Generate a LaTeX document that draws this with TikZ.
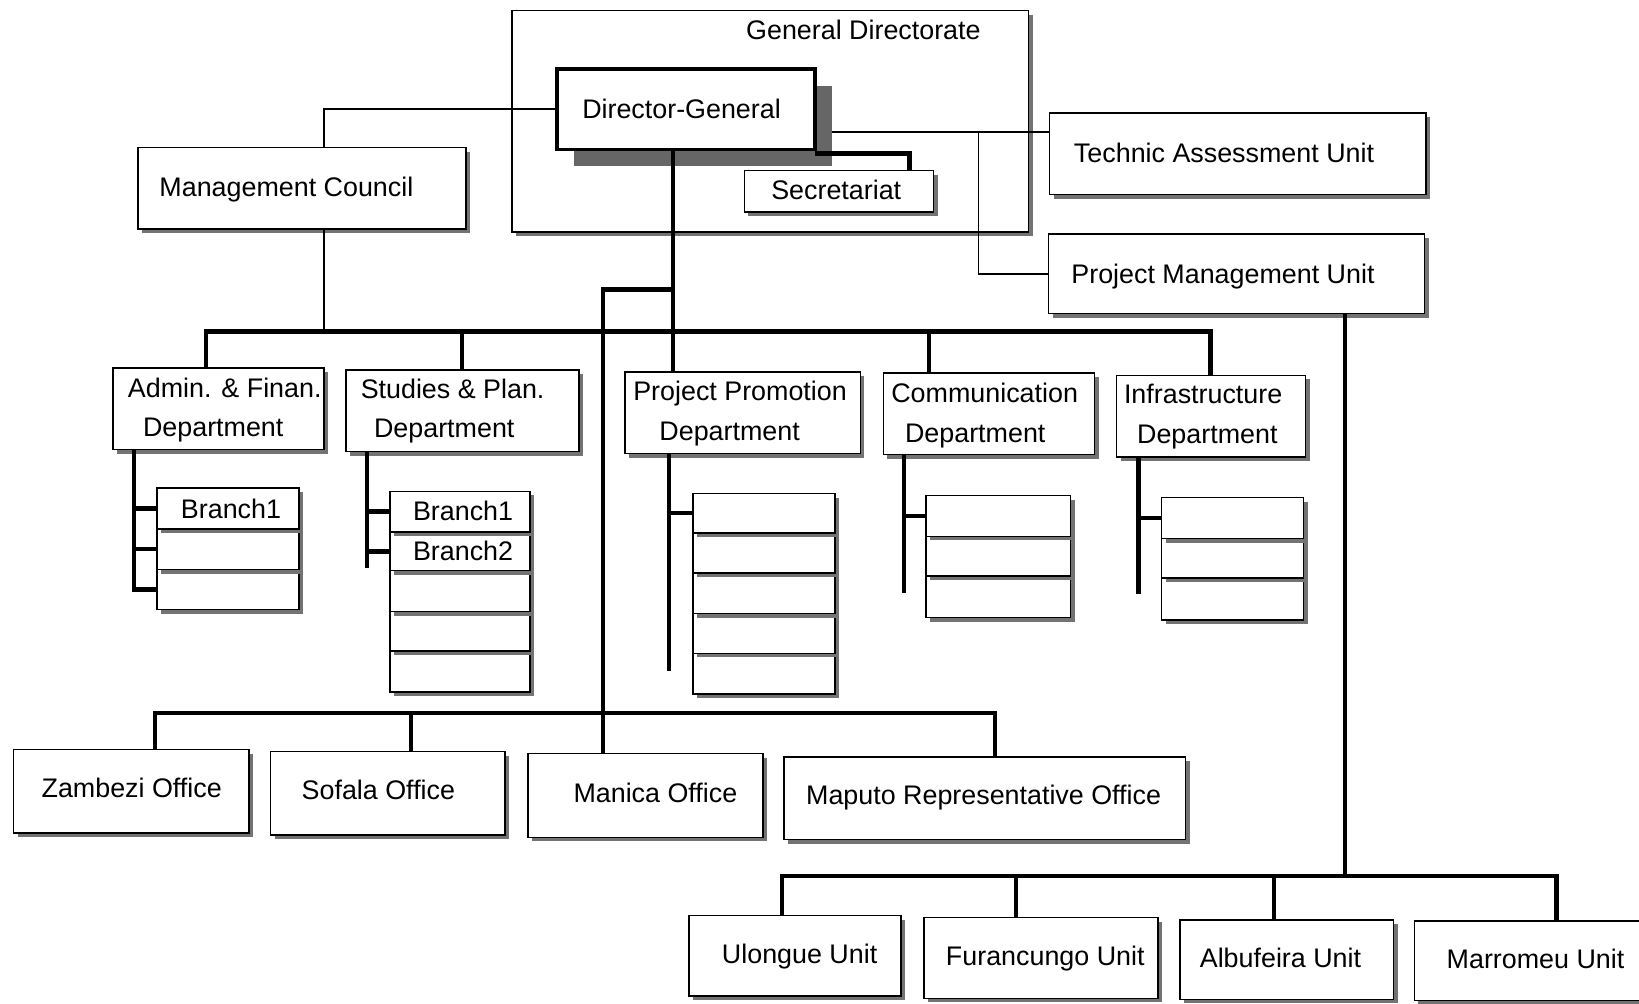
\documentclass[tikz,border=0pt]{standalone}
\usepackage{fontspec}
\setmainfont{Liberation Sans}
\usetikzlibrary{shadows}

% a framed box given by its top-left and bottom-right corners
\newcommand{\orgbox}[6][box]{%
  \node[#1, minimum width={(#5)-(#3)}, minimum height={(#6)-(#4)}] (#2) at (#3,#4) {};}
% a line of text, placed by the centre of its baseline
\newcommand{\orgtext}[4]{\node[lbl] (#1) at (#2,#3) {#4};}

\begin{document}
\begin{tikzpicture}[x=1pt, y=-1pt,
  box/.style={draw, line width=1.4pt, fill=white, inner sep=0pt, outer sep=0pt,
    anchor=north west,
    drop shadow={shadow xshift=4pt, shadow yshift=-4pt, fill=black!55, opacity=1}},
  dgbox/.style={draw, line width=3.6pt, fill=white, inner sep=0pt, outer sep=0pt,
    anchor=north west,
    drop shadow={shadow xshift=16pt, shadow yshift=-16pt, fill=black!60, opacity=1}},
  lbl/.style={font=\fontsize{25.7pt}{30pt}\selectfont, anchor=base, inner sep=0pt},
  thinln/.style={line width=1.6pt},
  heavy/.style={line width=4.2pt}]

\useasboundingbox (0,0) rectangle (1568,960);
\fill[white] (0,0) rectangle (1568,960);
\clip (0,0) rectangle (1568,960);

% ---------- General Directorate frame ----------
\orgbox{gd}{490}{10}{984}{222}
\orgtext{gd-t}{826}{38}{General Directorate}

% junction points of the connectors
\coordinate (cTAU) at (0,126);
\coordinate (cV) at (936,126);
\coordinate (cMCx) at (310,0);
\coordinate (cSec) at (870,0);
\coordinate (cTrunk) at (644,277);
\coordinate (cOff) at (577,277);
\coordinate (dA) at (197,317);
\coordinate (dB) at (442,317);
\coordinate (dC) at (889,317);
\coordinate (dD) at (1158,317);
\coordinate (oA) at (148,682);
\coordinate (oB) at (393,682);
\coordinate (oD) at (952,682);
\coordinate (uT) at (1287,838);
\coordinate (uA) at (748,838);
\coordinate (uB) at (972,838);
\coordinate (uC) at (1219,838);
\coordinate (uD) at (1489,838);

% line to the Technic Assessment Unit, passing behind the Director-General
\draw[thinln] (cTAU -| 700,0) -- (cTAU -| 1004,0);

% ---------- top level ----------
\orgbox[dgbox]{dg}{533}{66}{780}{143}
\orgtext{dg-t}{652}{113}{Director-General}
\orgbox{sec}{712}{163}{893}{203}
\orgtext{sec-t}{800}{191}{Secretariat}
\orgbox{mc}{132}{141}{446}{219}
\orgtext{mc-t}{274}{188}{Management Council}
\orgbox{tau}{1004}{108}{1364}{186}
\orgtext{tau-t}{1171}{155}{Technic Assessment Unit}
\orgbox{pmu}{1003}{224}{1363}{300}
\orgtext{pmu-t}{1170}{271}{Project Management Unit}

% ---------- departments ----------
\orgbox{adm}{108}{352}{310}{430}
\orgtext{adm-t1}{215}{380}{Admin. \& Finan.}
\orgtext{adm-t2}{204}{418}{Department}
\orgbox{stu}{331}{354}{554}{432}
\orgtext{stu-t1}{433}{381}{Studies \& Plan.}
\orgtext{stu-t2}{425}{419}{Department}
\orgbox{pp}{598}{356}{823}{434}
\orgtext{pp-t1}{708}{383}{Project Promotion}
\orgtext{pp-t2}{698}{421}{Department}
\orgbox{com}{845}{357}{1047}{435}
\orgtext{com-t1}{942}{385}{Communication}
\orgtext{com-t2}{933}{423}{Department}
\orgbox{inf}{1068}{359}{1249}{437}
\orgtext{inf-t1}{1151}{386}{Infrastructure}
\orgtext{inf-t2}{1155}{424}{Department}

% ---------- branch stacks (drawn bottom row first) ----------
\orgbox{a3}{150}{545}{286}{583}
\orgbox{a2}{150}{506}{286}{545}
\orgbox{a1}{150}{467}{286}{506}
\orgtext{a1-t}{221}{496}{Branch1}

\orgbox{s5}{373}{623}{507}{662}
\orgbox{s4}{373}{585}{507}{623}
\orgbox{s3}{373}{546}{507}{585}
\orgbox{s2}{373}{509}{507}{546}
\orgbox{s1}{373}{470}{507}{509}
\orgtext{s1-t}{443}{498}{Branch1}
\orgtext{s2-t}{443}{536}{Branch2}

\orgbox{p5}{663}{625}{799}{664}
\orgbox{p4}{663}{587}{799}{625}
\orgbox{p3}{663}{548}{799}{587}
\orgbox{p2}{663}{510}{799}{548}
\orgbox{p1}{663}{472}{799}{510}

\orgbox{c3}{886}{551}{1024}{591}
\orgbox{c2}{886}{513}{1024}{551}
\orgbox{c1}{886}{474}{1024}{513}

\orgbox{i3}{1111}{553}{1247}{593}
\orgbox{i2}{1111}{515}{1247}{553}
\orgbox{i1}{1111}{476}{1247}{515}

% ---------- offices ----------
\orgbox{zam}{13}{717}{238}{797}
\orgtext{zam-t}{126}{763}{Zambezi Office}
\orgbox{sof}{259}{719}{483}{799}
\orgtext{sof-t}{362}{765}{Sofala Office}
\orgbox{man}{505}{721}{730}{801}
\orgtext{man-t}{627}{768}{Manica Office}
\orgbox{map}{750}{724}{1134}{803}
\orgtext{map-t}{941}{770}{Maputo Representative Office}

% ---------- units ----------
\orgbox{ulo}{659}{876}{862}{953}
\orgtext{ulo-t}{765}{922}{Ulongue Unit}
\orgbox{fur}{884}{878}{1108}{955}
\orgtext{fur-t}{1000}{924}{Furancungo Unit}
\orgbox{alb}{1129}{880}{1333}{956}
\orgtext{alb-t}{1225}{926}{Albufeira Unit}
\orgbox{mar}{1353}{881}{1600}{957}
\orgtext{mar-t}{1469}{927}{Marromeu Unit}

% ---------- connectors ----------
% thin links of the Director-General
\draw[thinln] (dg.west) -| (mc.north -| cMCx);
\draw[thinln] (mc.south -| cMCx) -- (dA -| cMCx);
\draw[thinln] (cV) |- (pmu.west);

% Secretariat
\draw[heavy] ([yshift=-4pt]dg.south east) -| (sec.north -| cSec);

% main trunk and department bus
\draw[heavy] (dg.south -| cTrunk) -- (pp.north -| cTrunk);
\draw[heavy] (adm.north -| dA) -- (dA) -- (dD) -- (inf.north -| dD);
\draw[heavy] (dB) -- (stu.north -| dB);
\draw[heavy] (dC) -- (com.north -| dC);

% offices
\draw[heavy] (cTrunk) -- (cOff) -- (man.north -| cOff);
\draw[heavy] (zam.north -| oA) -- (oA) -- (oD) -- (map.north -| oD);
\draw[heavy] (oB) -- (sof.north -| oB);

% units
\draw[heavy] (pmu.south -| uT) -- (uT);
\draw[heavy] (ulo.north -| uA) -- (uA) -- (uD) -- (mar.north -| uD);
\draw[heavy] (uB) -- (fur.north -| uB);
\draw[heavy] (uC) -- (alb.north -| uC);

% branch connectors
\coordinate (aV) at (128,0);
\draw[heavy] (adm.south -| aV) |- (a3.west);
\draw[heavy] (aV |- a1.west) -- (a1.west);
\draw[heavy] (aV |- a2.west) -- (a2.west);

\coordinate (sV) at (351,543);
\draw[heavy] (stu.south -| sV) -- (sV);
\draw[heavy] (sV |- s1.west) -- (s1.west);
\draw[heavy] (sV |- s2.west) -- (s2.west);

\coordinate (pV) at (640,642);
\draw[heavy] (pp.south -| pV) -- (pV);
\draw[heavy] (pV |- p1.west) -- (p1.west);

\coordinate (cVc) at (865,567);
\draw[heavy] (com.south -| cVc) -- (cVc);
\draw[heavy] (cVc |- c1.west) -- (c1.west);

\coordinate (iV) at (1089,568);
\draw[heavy] (inf.south -| iV) -- (iV);
\draw[heavy] (iV |- i1.west) -- (i1.west);

\end{tikzpicture}
\end{document}
